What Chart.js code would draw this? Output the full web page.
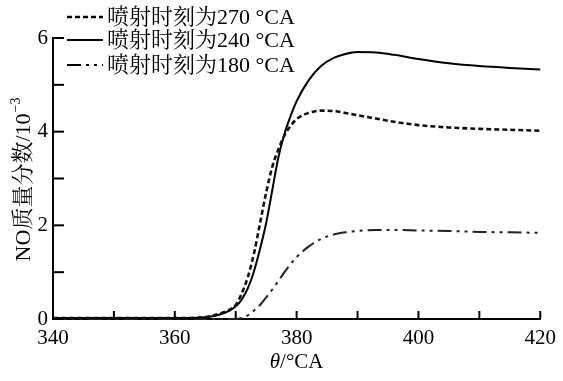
<!DOCTYPE html>
<html>
<head>
<meta charset="utf-8">
<script src="https://cdn.jsdelivr.net/npm/chart.js@4.4.1/dist/chart.umd.min.js"></script>
<style>
    html, body { margin: 0; padding: 0; background: #fff; }
    #wrap { width: 563px; height: 381px; }
</style>
</head>
<body>
<div id="wrap"><canvas id="noChart"></canvas></div>
<script>
// crank angle, deg CA
var theta = [340, 350, 360, 365, 367, 369, 370, 371, 372, 373, 374, 375, 376, 377, 378, 379, 380, 382, 384, 386, 388, 390, 393, 396, 400, 405, 410, 415, 420];
// NO mass fraction, 10^-3
var inj270 = [0.02, 0.02, 0.02, 0.04, 0.10, 0.20, 0.30, 0.55, 0.90, 1.40, 2.05, 2.70, 3.25, 3.62, 3.92, 4.12, 4.27, 4.40, 4.45, 4.44, 4.40, 4.35, 4.28, 4.21, 4.14, 4.09, 4.06, 4.04, 4.02];
var inj240 = [0.02, 0.02, 0.02, 0.04, 0.08, 0.18, 0.27, 0.42, 0.66, 1.02, 1.50, 2.05, 2.75, 3.45, 3.95, 4.33, 4.65, 5.10, 5.40, 5.57, 5.66, 5.70, 5.69, 5.64, 5.55, 5.46, 5.40, 5.36, 5.33];
var inj180 = [0, 0, 0, 0, 0, 0, 0, 0.02, 0.08, 0.18, 0.30, 0.46, 0.63, 0.81, 1.0, 1.17, 1.32, 1.55, 1.71, 1.80, 1.85, 1.88, 1.90, 1.90, 1.89, 1.88, 1.86, 1.85, 1.84];
var seriesLabels = ['喷射时刻为270 °CA', '喷射时刻为240 °CA', '喷射时刻为180 °CA'];
var xTicks = [340, 360, 380, 400, 420];
var yTicks = [0, 2, 4, 6];

var FONT = "'Liberation Serif', 'Noto Serif CJK SC', 'Noto Sans CJK SC', serif";
Chart.defaults.font.family = FONT;
Chart.defaults.color = '#000';

function pts(vals) {
    return theta.map(function (t, i) { return { x: t, y: vals[i] }; });
}

var dashes = [[5, 3], [], [14, 5, 3, 5, 3, 5]];
var widths = [2.6, 2, 2];

var extras = {
    id: 'extras',
    afterDraw: function (chart) {
        var ctx = chart.ctx;
        var xs = chart.scales.x, ys = chart.scales.y;
        var area = chart.chartArea;
        ctx.save();
        ctx.strokeStyle = '#000';
        ctx.lineWidth = 2;
        // inward ticks
        xs.ticks.forEach(function (t) {
            var px = xs.getPixelForValue(t.value);
            ctx.beginPath();
            ctx.moveTo(px, area.bottom);
            ctx.lineTo(px, area.bottom - 8);
            ctx.stroke();
        });
        ys.ticks.forEach(function (t) {
            var py = ys.getPixelForValue(t.value);
            ctx.beginPath();
            ctx.moveTo(area.left, py);
            ctx.lineTo(area.left + 11, py);
            ctx.stroke();
        });

        // legend
        ctx.font = '22px ' + FONT;
        ctx.fillStyle = '#000';
        ctx.textBaseline = 'middle';
        var rows = [17, 40, 65];
        chart.data.datasets.forEach(function (ds, i) {
            ctx.setLineDash(dashes[i]);
            ctx.lineWidth = widths[i];
            ctx.beginPath();
            ctx.moveTo(67, rows[i]);
            ctx.lineTo(103, rows[i]);
            ctx.stroke();
            ctx.setLineDash([]);
            ctx.fillText(ds.label, 107, rows[i] + 1);
        });

        // x title
        var cx = (area.left + area.right) / 2;
        ctx.font = 'italic 21px ' + FONT;
        var w1 = ctx.measureText('θ').width;
        ctx.font = '21px ' + FONT;
        var w2 = ctx.measureText('/°CA').width;
        var x0 = cx - (w1 + w2) / 2;
        ctx.textAlign = 'left';
        ctx.font = 'italic 21px ' + FONT;
        ctx.fillText('θ', x0, 362);
        ctx.font = '21px ' + FONT;
        ctx.fillText('/°CA', x0 + w1, 362);

        // y title
        ctx.translate(24, 180);
        ctx.rotate(-Math.PI / 2);
        ctx.font = '22px ' + FONT;
        var main = 'NO质量分数/10';
        var wm = ctx.measureText(main).width;
        ctx.font = '14px ' + FONT;
        var sup = '−3';
        var ws = ctx.measureText(sup).width;
        var sx = -(wm + ws) / 2;
        ctx.font = '22px ' + FONT;
        ctx.fillText(main, sx, 0);
        ctx.font = '14px ' + FONT;
        ctx.fillText(sup, sx + wm + 1, -8);
        ctx.restore();
    }
};

new Chart(document.getElementById('noChart'), {
    type: 'line',
    data: {
        datasets: [
            { label: seriesLabels[0], data: pts(inj270), borderColor: '#111', borderWidth: widths[0], borderDash: dashes[0] },
            { label: seriesLabels[1], data: pts(inj240), borderColor: '#000', borderWidth: widths[1], borderDash: dashes[1] },
            { label: seriesLabels[2], data: pts(inj180), borderColor: '#222', borderWidth: widths[2], borderDash: dashes[2] }
        ]
    },
    options: {
        responsive: true,
        maintainAspectRatio: false,
        animation: false,
        clip: false,
        elements: {
            point: { radius: 0 },
            line: { cubicInterpolationMode: 'monotone', fill: false }
        },
        layout: { padding: { left: 0, right: 22, top: 38, bottom: 0 } },
        plugins: {
            legend: { display: false },
            tooltip: { enabled: false }
        },
        scales: {
            x: {
                type: 'linear',
                min: 340,
                max: 420,
                grid: { display: false, drawTicks: false },
                border: { display: true, color: '#000', width: 2 },
                ticks: {
                    stepSize: 10,
                    padding: 7,
                    font: { size: 21 },
                    callback: function (v) { return xTicks.indexOf(v) >= 0 ? String(v) : ''; }
                },
                afterFit: function (s) { s.height = 62; }
            },
            y: {
                min: 0,
                max: 6,
                grid: { display: false, drawTicks: false },
                border: { display: true, color: '#000', width: 2 },
                ticks: {
                    stepSize: 1,
                    padding: 5,
                    font: { size: 21 },
                    callback: function (v) { return yTicks.indexOf(v) >= 0 ? String(v) : ''; }
                },
                afterFit: function (s) { s.width = 53; }
            }
        }
    },
    plugins: [extras]
});
</script>
</body>
</html>
